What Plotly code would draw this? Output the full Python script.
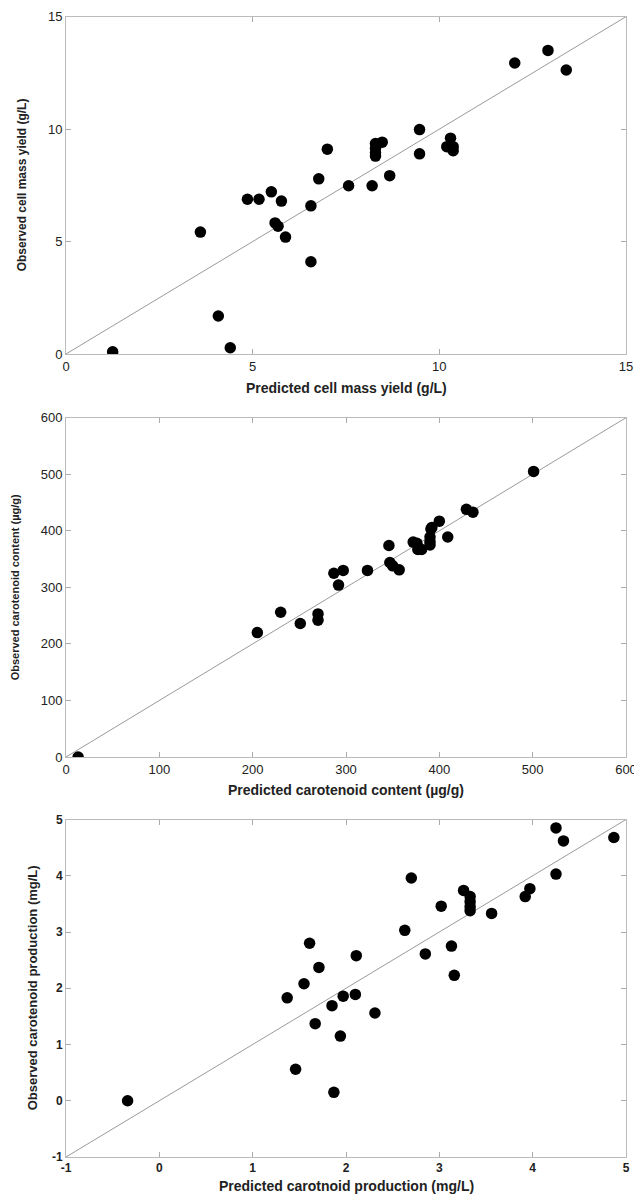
import plotly.graph_objects as go

# Panel 1: cell mass yield (g/L)
p1_pred = [1.25, 3.6, 4.08, 4.4, 4.86, 5.17, 5.5, 5.6, 5.68, 5.77, 5.88, 6.56, 6.56, 6.77, 7.0, 7.57,
           8.2, 8.29, 8.29, 8.29, 8.29, 8.47, 8.67, 9.47, 9.47, 10.2, 10.3, 10.37, 10.37, 12.02, 12.91, 13.4]
p1_obs = [0.1, 5.42, 1.69, 0.28, 6.88, 6.88, 7.21, 5.83, 5.68, 6.8, 5.2, 6.59, 4.1, 7.79, 9.11, 7.48,
          7.48, 9.36, 9.15, 8.95, 8.8, 9.42, 7.93, 9.98, 8.9, 9.22, 9.6, 9.22, 9.04, 12.94, 13.5, 12.63]

# Panel 2: carotenoid content (ug/g)
p2_pred = [13, 205, 230, 251, 270, 270, 287, 292, 297, 323, 346, 347, 350, 357, 372, 376, 377, 381,
           390, 390, 390, 391, 392, 400, 409, 429, 436, 501]
p2_obs = [0, 220, 256, 236, 253, 242, 325, 304, 330, 330, 374, 344, 338, 331, 380, 378, 367, 367,
          375, 381, 389, 403, 406, 417, 389, 438, 433, 505]

# Panel 3: carotenoid production (mg/L)
p3_pred = [-0.34, 1.37, 1.46, 1.55, 1.61, 1.67, 1.71, 1.85, 1.87, 1.94, 1.97, 2.1, 2.11, 2.31, 2.63, 2.7,
           2.85, 3.02, 3.13, 3.16, 3.26, 3.33, 3.33, 3.33, 3.33, 3.56, 3.92, 3.97, 4.25, 4.25, 4.33, 4.87]
p3_obs = [0.0, 1.83, 0.56, 2.08, 2.8, 1.37, 2.37, 1.69, 0.15, 1.15, 1.86, 1.89, 2.58, 1.56, 3.03, 3.96,
          2.61, 3.46, 2.75, 2.23, 3.74, 3.63, 3.54, 3.45, 3.38, 3.33, 3.63, 3.77, 4.03, 4.85, 4.62, 4.68]

ranges = [[0, 15], [0, 600], [-1, 5]]
ticks = [[0, 5, 10, 15], [0, 100, 200, 300, 400, 500, 600], [-1, 0, 1, 2, 3, 4, 5]]
tick_labels = [["0", "5", "10", "15"], ["0", "100", "200", "300", "400", "500", "600"],
               ["-1", "0", "1", "2", "3", "4", "5"]]
x_titles = ["Predicted cell mass yield (g/L)", "Predicted carotenoid content (\u00b5g/g)",
            "Predicted carotnoid production (mg/L)"]
y_titles = ["Observed cell mass yield (g/L)", "Observed carotenoid content (\u00b5g/g)",
            "Observed carotenoid production (mg/L)"]

# page body has an 8px margin, so the figure origin sits at (8, 8) in the window
OFF = 8
W, H = 642 - OFF, 1198 - OFF
L, R = 66 - OFF, 626 - OFF
xdom = [L / W, R / W]
ypix = [(16.7 - OFF, 354 - OFF), (417.7 - OFF, 757 - OFF), (819.5 - OFF, 1157 - OFF)]
xtitle_y = [388 - OFF, 790 - OFF, 1186 - OFF]
ytitle_x = [22 - OFF, 15 - OFF, 32 - OFF]
ytitle_size = [12, 11, 13]
tick_font = [dict(size=13, color="#222", family="Liberation Sans, Arial"),
             dict(size=13, color="#222", family="Liberation Sans, Arial"),
             dict(size=12, color="#222", family="Liberation Sans, Arial", weight="bold")]

data = [(p1_pred, p1_obs), (p2_pred, p2_obs), (p3_pred, p3_obs)]

fig = go.Figure()
annotations = []
for i, ((px, py), rng) in enumerate(zip(data, ranges)):
    xa = "x" if i == 0 else f"x{i+1}"
    ya = "y" if i == 0 else f"y{i+1}"
    fig.add_trace(go.Scatter(x=rng, y=rng, mode="lines", line=dict(color="#9a9a9a", width=1),
                             xaxis=xa, yaxis=ya, showlegend=False, hoverinfo="skip"))
    fig.add_trace(go.Scatter(x=px, y=py, mode="markers",
                             marker=dict(color="black", size=11.5, line=dict(width=0)),
                             xaxis=xa, yaxis=ya, showlegend=False))
    top, bot = ypix[i]
    axis_common = dict(range=rng, tickvals=ticks[i], ticktext=tick_labels[i], ticks="inside",
                       ticklen=5, tickcolor="#aaa", automargin=False,
                       showline=True, linecolor="#bbb", linewidth=1, mirror="ticks",
                       showgrid=False, zeroline=False, tickfont=tick_font[i])
    xkey = "xaxis" if i == 0 else f"xaxis{i+1}"
    ykey = "yaxis" if i == 0 else f"yaxis{i+1}"
    fig.update_layout(**{
        xkey: dict(domain=xdom, anchor=ya, **axis_common),
        ykey: dict(domain=[1 - bot / H, 1 - top / H], anchor=xa, **axis_common),
    })
    annotations.append(dict(text=f"<b>{x_titles[i]}</b>", xref="paper", yref="paper",
                            x=(L + R) / 2 / W, y=1 - xtitle_y[i] / H, showarrow=False,
                            xanchor="center", yanchor="middle",
                            font=dict(size=14, color="#222", family="Liberation Sans, Arial")))
    annotations.append(dict(text=f"<b>{y_titles[i]}</b>", xref="paper", yref="paper",
                            x=ytitle_x[i] / W, y=1 - (top + bot) / 2 / H, showarrow=False,
                            textangle=-90, xanchor="center", yanchor="middle",
                            font=dict(size=ytitle_size[i], color="#222", family="Liberation Sans, Arial")))

fig.update_layout(width=W, height=H, margin=dict(l=0, r=0, t=0, b=0),
                  paper_bgcolor="white", plot_bgcolor="white", annotations=annotations)
fig.write_html("out.html")
